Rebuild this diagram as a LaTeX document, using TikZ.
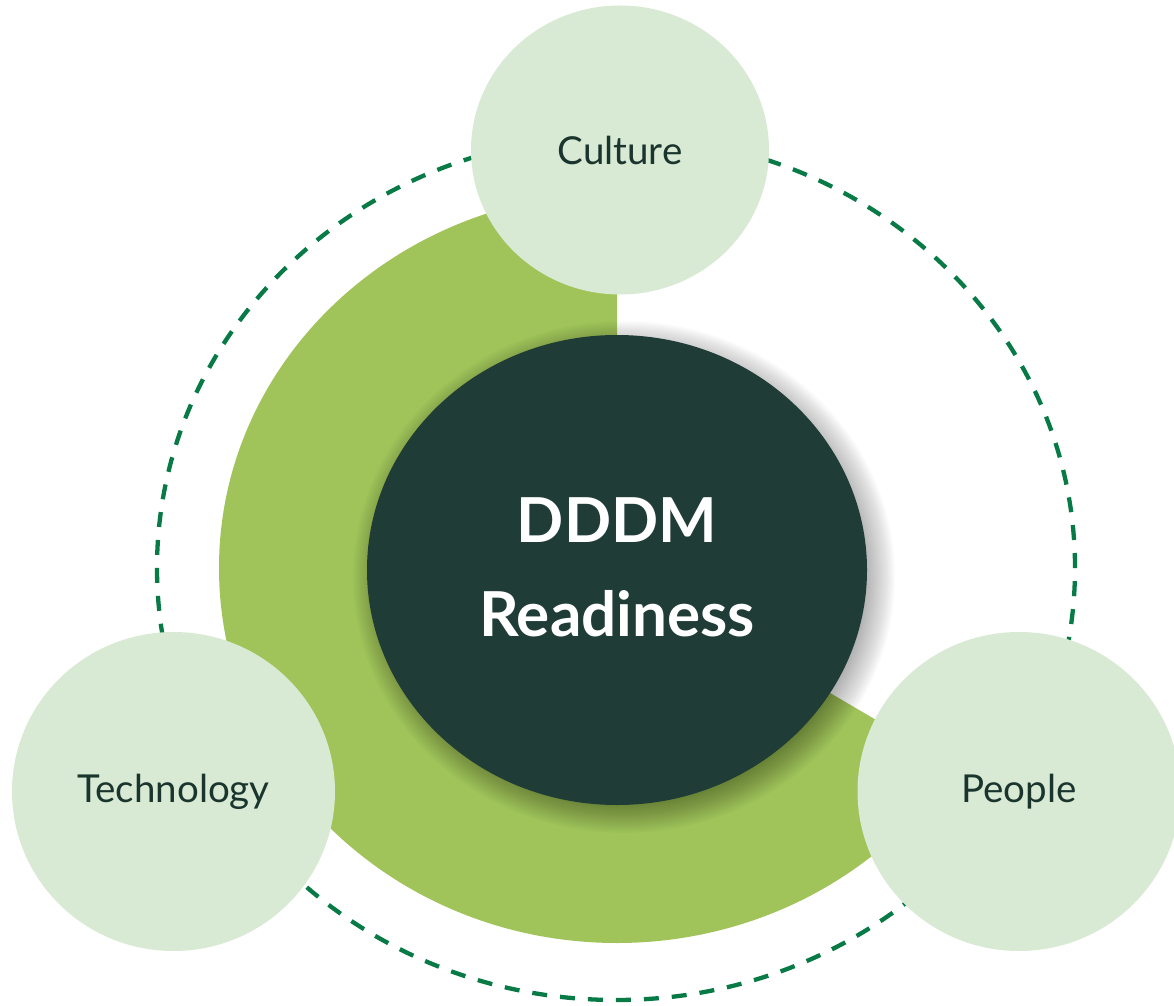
\documentclass[tikz,border=0pt]{standalone}
\usepackage{fontspec}
\setmainfont{Lato}
\definecolor{ringgreen}{RGB}{160,196,90}
\definecolor{lightgreen}{RGB}{216,234,211}
\definecolor{darkcore}{RGB}{31,60,54}
\definecolor{dashgreen}{RGB}{8,122,70}
\definecolor{labeltext}{RGB}{26,52,46}
\tikzset{
  satellite/.style={ellipse, fill=lightgreen, inner sep=0pt, text=labeltext,
    font=\fontsize{38.5}{42}\selectfont},
  corebox/.style={ellipse, fill=darkcore, inner sep=0pt, text=white, align=center,
    font=\bfseries\fontsize{62}{94}\selectfont},
  orbit/.style={draw=dashgreen, line width=4.3pt, dash pattern=on 15pt off 13pt}
}
\usetikzlibrary{shapes.geometric}
\begin{document}
\begin{tikzpicture}[x=1pt,y=1pt]
\useasboundingbox (0,0) rectangle (1174,1005);
% dashed orbit
\draw[orbit] (616,437) ellipse [x radius=459, y radius=432];
% green sector ring
\fill[ringgreen] (617,437) -- ++(0,375) arc[start angle=90, end angle=328.1, x radius=398, y radius=375] -- cycle;
% soft shadow of the core
\foreach \i in {0,...,17}{
  \fill[black, opacity=0.02] (624,428) ellipse [x radius=242+\i*1.7, y radius=227+\i*1.7];
}
% core
\node[corebox, minimum width=500pt, minimum height=470pt] (core) at (617,435) {};
\node[text=white, align=center, font=\bfseries\fontsize{62}{94}\selectfont] (coretext) at (617,438) {DDDM\\Readiness};
% satellites
\node[satellite, minimum width=298pt, minimum height=289pt] (culture) at (620,855) {Culture};
\node[satellite, minimum width=323pt, minimum height=319pt] (tech) at (173.5,213.5) {Technology};
\node[satellite, minimum width=323pt, minimum height=319pt] (people) at (1019,213.5) {People};
\end{tikzpicture}
\end{document}
